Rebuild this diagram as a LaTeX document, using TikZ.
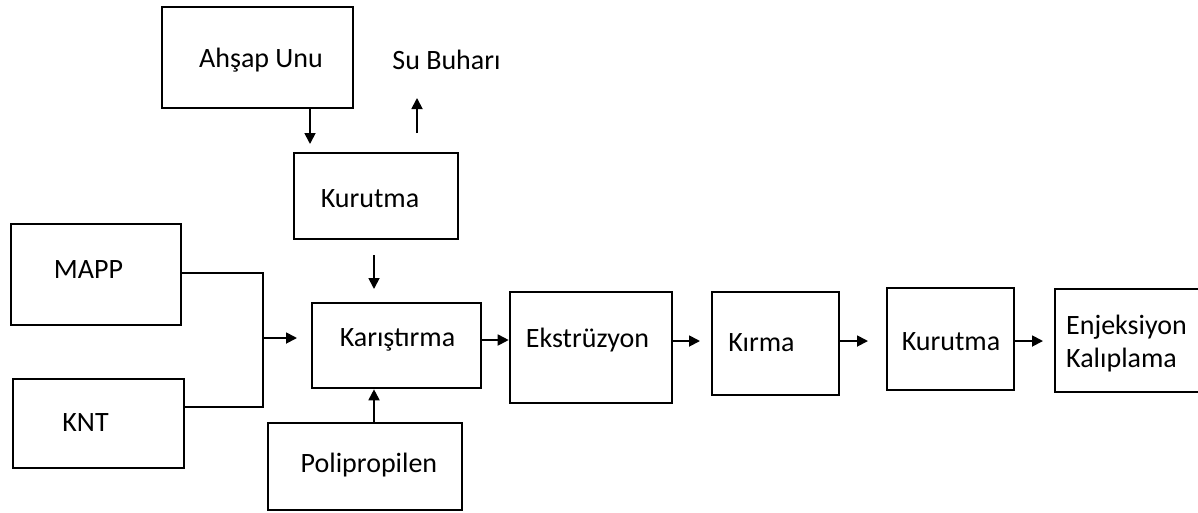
\documentclass[tikz,border=0pt]{standalone}
\usepackage{fontspec}
\setmainfont{Carlito}
\usetikzlibrary{arrows.meta}
\begin{document}
\begin{tikzpicture}[x=1pt,y=-1pt,
  box/.style={draw=black,line width=2.6pt,minimum width=#1,inner sep=0pt},
  lbl/.style={inner sep=0pt,font=\fontsize{28}{33}\selectfont},
  arr/.style={line width=1.8pt,-{Triangle[length=11pt,width=11pt]}},
  ln/.style={line width=1.8pt}]
\clip (0,0) rectangle (1198,512);
\fill[white] (0,0) rectangle (1198,512);
% boxes
\node[box=191pt,minimum height=101pt] (ahsap) at (257.5,57.5) {};
\node[box=164pt,minimum height=86pt] (kur1) at (376,196) {};
\node[box=170pt,minimum height=101pt] (mapp) at (96,274.5) {};
\node[box=171pt,minimum height=89pt] (knt) at (98.5,423.5) {};
\node[box=169pt,minimum height=85pt] (karis) at (396.5,345.5) {};
\node[box=194pt,minimum height=87pt] (poli) at (365,466.5) {};
\node[box=162pt,minimum height=111pt] (ekst) at (591,347.5) {};
\node[box=127pt,minimum height=103pt] (kirma) at (775.5,343.5) {};
\node[box=127pt,minimum height=102pt] (kur2) at (950.5,339) {};
\node[box=150pt,minimum height=103pt] (enj) at (1130,340.5) {};
% labels
\node[lbl] (tahsap) at (261,60) {Ahşap Unu};
\node[lbl] (su) at (446.5,60) {Su Buharı};
\node[lbl] (tkur1) at (370,199) {Kurutma};
\node[lbl] (tmapp) at (88.5,270) {MAPP};
\node[lbl] (tknt) at (85.5,423) {KNT};
\node[lbl] (tkaris) at (397.5,340) {Karıştırma};
\node[lbl] (tpoli) at (369,465) {Polipropilen};
\node[lbl] (tekst) at (587.5,340) {Ekstrüzyon};
\node[lbl] (tkirma) at (761.5,343) {Kırma};
\node[lbl] (tkur2) at (951,342) {Kurutma};
\node[lbl,anchor=west,align=left] (tenj) at (1066,344) {Enjeksiyon\\Kalıplama};
% connector coordinates
\coordinate (a1) at (310,144);
\coordinate (s0) at (417,133);
\coordinate (s1) at (417,98);
\coordinate (k0) at (374,255);
\coordinate (k1) at (374,289);
\coordinate (j1) at (263,273);
\coordinate (j2) at (263,407);
\coordinate (j3) at (263,338);
\coordinate (j4) at (297,338);
\coordinate (e1) at (700,341);
\coordinate (r1) at (868,341);
\coordinate (u1) at (1043,341);
% connectors
\draw[arr] (ahsap.south -| a1) -- (a1);
\draw[arr] (s0) -- (s1);
\draw[arr] (k0) -- (k1);
\draw[ln] (mapp.east |- j1) -- (j1) -- (j2) -- (knt.east |- j2);
\draw[arr] (j3) -- (j4);
\draw[arr] (karis.east |- 0,340) -- (ekst.west |- 0,340);
\draw[arr] (ekst.east |- e1) -- (e1);
\draw[arr] (kirma.east |- r1) -- (r1);
\draw[arr] (kur2.east |- u1) -- (u1);
\draw[arr] (poli.north -| k1) -- (karis.south -| k1);
\end{tikzpicture}
\end{document}
